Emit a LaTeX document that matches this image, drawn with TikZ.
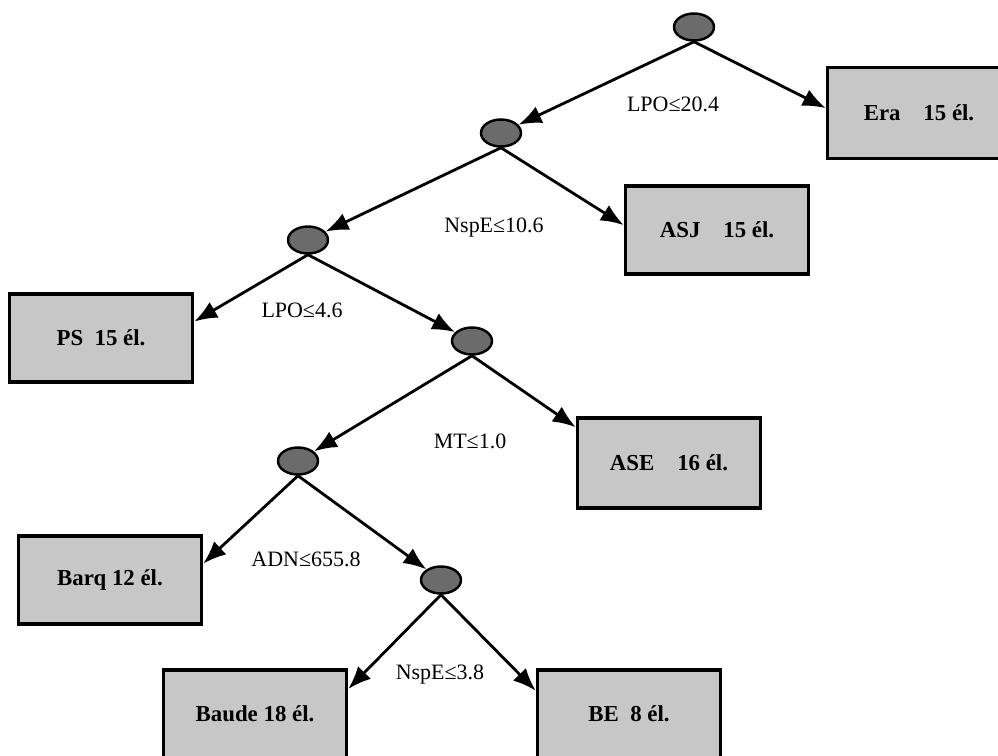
\documentclass[tikz,border=0pt]{standalone}
\usepackage{fontspec}
\setmainfont{Liberation Serif}
\usetikzlibrary{arrows.meta,shapes.geometric}

\begin{document}
\begin{tikzpicture}[x=0.02cm, y=-0.02cm,
    split/.style={ellipse, draw, line width=1.4pt, fill=black!58,
        minimum width=0.8cm, minimum height=0.54cm, inner sep=0pt},
    leaf/.style={draw, line width=2pt, fill=black!22,
        minimum width=3.66cm, minimum height=1.76cm,
        font=\fontsize{13}{15}\selectfont\bfseries},
    cond/.style={font=\fontsize{12.5}{14}\selectfont},
    branch/.style={line width=1.6pt, -{Latex[length=4.6mm,width=3.6mm]}}]
    \useasboundingbox (0,0) rectangle (998,755);

    % split nodes
    \node (N1) at (694, 27) [split] {};
    \node (N2) at (501, 133) [split] {};
    \node (N3) at (308, 240) [split] {};
    \node (N4) at (472, 341) [split] {};
    \node (N5) at (298, 461) [split] {};
    \node (N6) at (441, 580) [split] {};

    % leaves
    \node (Era) at (919, 113) [leaf, minimum height=1.82cm] {Era\quad 15 él.};
    \node (ASJ) at (717, 230) [leaf] {ASJ\quad 15 él.};
    \node (PS) at (101, 338) [leaf] {PS\enspace 15 él.};
    \node (ASE) at (669, 463) [leaf, minimum height=1.8cm] {ASE\quad 16 él.};
    \node (Barq) at (110, 580) [leaf] {Barq 12 él.};
    \node (Baude) at (255, 714) [leaf] {Baude 18 él.};
    \node (BE) at (629, 714) [leaf] {BE\enspace 8 él.};

    % conditions
    \node (L1) at (673, 104) [cond] {LPO≤20.4};
    \node (L2) at (494, 228) [cond] {NspE≤10.6};
    \node (L3) at (302, 310) [cond] {LPO≤4.6};
    \node (L4) at (470, 441) [cond] {MT≤1.0};
    \node (L5) at (306, 559) [cond] {ADN≤655.8};
    \node (L6) at (440, 675) [cond] {NspE≤3.8};

    \draw[branch] (N1.south) -- (N2);
    \draw[branch] (N1.south) -- (Era.177);
    \draw[branch] (N2.south) -- (N3);
    \draw[branch] (N2.south) -- (ASJ.177);
    \draw[branch] (N3.south) -- (PS.10);
    \draw[branch] (N3.south) -- (N4);
    \draw[branch] (N4.south) -- (N5);
    \draw[branch] (N4.south) -- (ASE.159);
    \draw[branch] (N5.south) -- (Barq.10);
    \draw[branch] (N5.south) -- (N6);
    \draw[branch] (N6.south) -- (Baude.15);
    \draw[branch] (N6.south) -- (BE.166);
\end{tikzpicture}
\end{document}
